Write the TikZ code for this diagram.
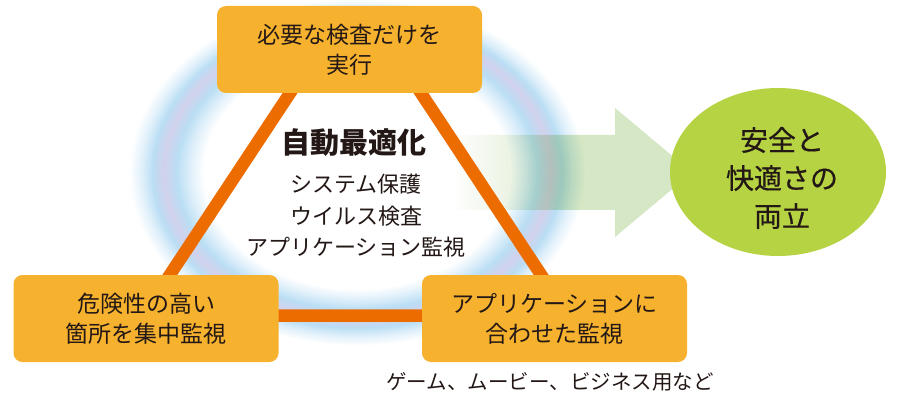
\documentclass[tikz,border=0pt]{standalone}
\usepackage{fontspec}
\setmainfont{Noto Sans CJK JP}
\newfontfamily\medfont[FakeBold=0.5]{Noto Sans CJK JP}
\usetikzlibrary{fadings,shapes.geometric}
\definecolor{boxfill}{RGB}{246,178,46}
\definecolor{triline}{RGB}{236,108,0}
\definecolor{arrowgreen}{RGB}{213,231,196}
\definecolor{ellgreen}{RGB}{182,211,68}
\definecolor{txt}{RGB}{35,24,21}
\definecolor{glowA}{RGB}{222,239,250}
\definecolor{glowB}{RGB}{186,222,244}
\definecolor{glowL}{RGB}{210,209,236}
\pgfdeclareradialshading{glowring}{\pgfpoint{0bp}{0bp}}{color(0bp)=(white); color(15.2bp)=(white); color(16.6bp)=(glowA); color(17.9bp)=(glowB); color(19.2bp)=(glowL); color(20.3bp)=(glowB); color(21.3bp)=(glowA); color(22.6bp)=(white); color(50bp)=(white)}
\pgfdeclarehorizontalshading{arrowfadeshading}{100bp}{color(0bp)=(black); color(25bp)=(black); color(27bp)=(black!90); color(38bp)=(black!50); color(48bp)=(white); color(100bp)=(white)}
\pgfdeclarefading{arrowfade}{\pgfuseshading{arrowfadeshading}}
\tikzset{
  box/.style={rectangle, rounded corners=9pt, fill=boxfill, minimum width=265pt, minimum height=87pt, inner sep=0pt, align=center, text=txt, font=\fontsize{23}{30}\selectfont},
  plain/.style={text=txt, inner sep=0pt, align=center},
}
\begin{document}
\begin{tikzpicture}[x=1pt,y=-1pt]
\useasboundingbox (0,0) rectangle (901,406);
% glow ring
\shade[shading=glowring] (357,172) ellipse [x radius=252, y radius=192];
% arrow
\begin{scope}[blend mode=multiply]
\fill[arrowgreen, path fading=arrowfade, fit fading=true] (455,135) -- (615,135) -- (615,108) -- (692,172.5) -- (615,237) -- (615,210) -- (455,210) -- cycle;
\end{scope}
% triangle
\coordinate (apex) at (355.5,-6);
\coordinate (bl) at (143,315.5);
\coordinate (br) at (568,315.5);
\begin{scope}
\clip (0,8) rectangle (901,406);
\draw[triline, line width=12.5pt, line join=miter] (apex) -- (bl) -- (br) -- cycle;
\end{scope}
% boxes
\node[box] (top) at (349.5,49.5) {必要な検査だけを\\実行};
\node[box] (left) at (146,318.5) {危険性の高い\\箇所を集中監視};
\node[box] (right) at (554.5,318.5) {アプリケーションに\\合わせた監視};
% goal ellipse
\node[ellipse, fill=ellgreen, minimum width=216pt, minimum height=168pt, inner sep=0pt] (goal) at (778,172) {};
\node[plain, font=\medfont\fontsize{28}{38}\selectfont] (goaltext) at ([xshift=4pt,yshift=-6pt]goal.center) {安全と\\快適さの\\両立};
% centre texts
\node[plain, font=\bfseries\fontsize{29}{29}\selectfont] (title) at (354,143) {自動最適化};
\node[plain, font=\fontsize{22}{31.5}\selectfont] (list) at (356,216) {システム保護\\ウイルス検査\\アプリケーション監視};
% caption
\node[plain, font=\fontsize{20.5}{20.5}\selectfont] (note) at (550,382) {ゲーム、ムービー、ビジネス用など};
\end{tikzpicture}
\end{document}
